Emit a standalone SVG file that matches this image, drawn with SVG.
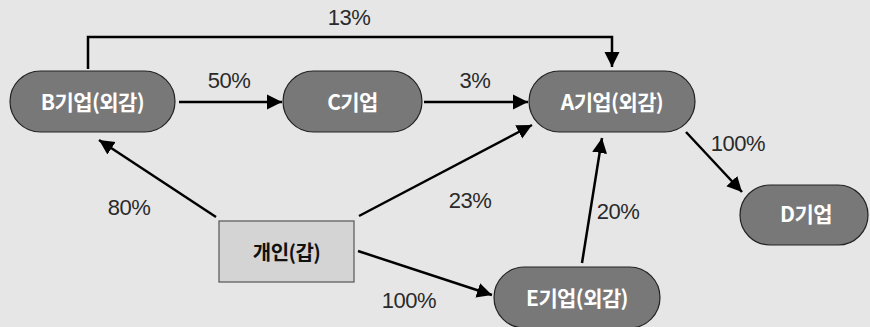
<svg xmlns="http://www.w3.org/2000/svg" width="870" height="327" viewBox="0 0 870 327">
<defs>
<marker id="ah" markerUnits="userSpaceOnUse" markerWidth="16" markerHeight="16" viewBox="0 0 16 16" refX="15" refY="8" orient="auto">
<path d="M0,0.5 L15,8 L0,15.5 Z" fill="#000"/>
</marker>
<style>
.n{fill:#787878;stroke:#222;stroke-width:1.2}
.nt{fill:#fff;font-family:"Noto Sans CJK KR","Noto Sans",sans-serif;font-size:21px;font-weight:bold;text-anchor:middle;letter-spacing:-0.6px}
.bt{fill:#111;font-family:"Noto Sans CJK KR","Noto Sans",sans-serif;font-size:20px;font-weight:bold;text-anchor:middle;letter-spacing:-0.6px}
.e{fill:none;stroke:#000;stroke-width:2.5}
.l{fill:#2a2a2a;font-family:"Liberation Sans","Noto Sans CJK KR",sans-serif;font-size:22px;text-anchor:middle;letter-spacing:-0.5px}
</style>
</defs>
<rect width="870" height="327" fill="#e6e6e6"/>
<g id="connectors">
<path class="e" d="M88,69 V37 H612 V67" marker-end="url(#ah)"/>
<line class="e" x1="179" y1="102" x2="282" y2="102" marker-end="url(#ah)"/>
<line class="e" x1="424" y1="102" x2="528" y2="102" marker-end="url(#ah)"/>
<line class="e" x1="216" y1="217" x2="99" y2="140" marker-end="url(#ah)"/>
<line class="e" x1="359" y1="216" x2="532" y2="125" marker-end="url(#ah)"/>
<line class="e" x1="358" y1="251" x2="492" y2="295" marker-end="url(#ah)"/>
<line class="e" x1="582" y1="263" x2="602" y2="138" marker-end="url(#ah)"/>
<line class="e" x1="686" y1="132" x2="742" y2="192" marker-end="url(#ah)"/>
<text class="l" x="349" y="25">13%</text>
<text class="l" x="229" y="88">50%</text>
<text class="l" x="475" y="88">3%</text>
<text class="l" x="129" y="215">80%</text>
<text class="l" x="470" y="208">23%</text>
<text class="l" x="409" y="308">100%</text>
<text class="l" x="618" y="219">20%</text>
<text class="l" x="738" y="151">100%</text>
</g>
<g id="B"><rect class="n" x="10" y="71" width="165" height="61" rx="30.5"/><text class="nt" x="92.5" y="110">B기업(외감)</text></g>
<g id="C"><rect class="n" x="283" y="71" width="139" height="61" rx="30.5"/><text class="nt" x="352.5" y="110">C기업</text></g>
<g id="A"><rect class="n" x="529" y="71" width="166" height="61" rx="30.5"/><text class="nt" x="612" y="110">A기업(외감)</text></g>
<g id="D"><rect class="n" x="740" y="185" width="128" height="60" rx="30"/><text class="nt" x="806" y="222">D기업</text></g>
<g id="E"><rect class="n" x="494" y="267" width="166" height="61" rx="30.5"/><text class="nt" x="577" y="306">E기업(외감)</text></g>
<g id="P"><rect x="219" y="221" width="135" height="61" fill="#d4d4d4" stroke="#555" stroke-width="1.2"/><text class="bt" x="286.5" y="260">개인(갑)</text></g>
</svg>
